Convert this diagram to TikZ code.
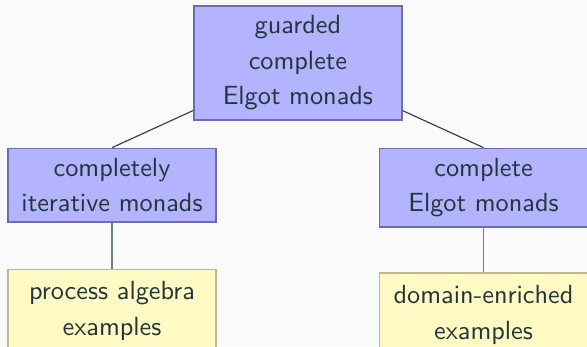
\documentclass[tikz,border=0pt]{standalone}
\usetikzlibrary{positioning,backgrounds}
\renewcommand{\familydefault}{\sfdefault}

\definecolor{textcol}{RGB}{35,55,59}
\definecolor{bgcol}{RGB}{250,250,250}
\definecolor{boxfill}{RGB}{179,179,255}
\definecolor{boxline}{RGB}{108,108,176}
\definecolor{exfill}{RGB}{255,249,196}
\definecolor{exline}{RGB}{189,185,142}
\definecolor{linkcol}{RGB}{47,69,72}
\definecolor{stemcol}{RGB}{110,128,130}

\tikzset{
  monad/.style={draw=boxline, fill=boxfill, line width=0.7pt, minimum width=80pt,
    inner xsep=3pt, inner ysep=3.6pt, align=center, text=textcol,
    font=\fontsize{10.1}{13.8}\selectfont},
  example/.style={monad, draw=exline, fill=exfill, minimum height=32pt},
  link/.style={draw=linkcol, line width=0.45pt},
  stem/.style={draw=stemcol, line width=0.6pt}
}

\begin{document}
\begin{tikzpicture}
      % Rahmen
      \clip (0,0) rectangle (225.8pt,133.1pt);
      \useasboundingbox (0,0) rectangle (225.8pt,133.1pt);

      % Oberste Klasse
      \node[monad] (gce) at (114.6pt,109pt) {guarded\\complete\\Elgot monads};

      % Zweite Ebene
      \node[monad, below=10.4pt of gce, xshift=-71.5pt] (cim) {completely\\iterative monads};
      \node[monad, below=10.4pt of gce, xshift=71.4pt]  (cem) {complete\\Elgot monads};

      % Beispiele
      \node[example, below=17.7pt of cim] (pae) {process algebra\\examples};
      \node[example, below=17.2pt of cem] (dee) {domain-enriched\\examples};

      % Verbindungen
      \begin{scope}[on background layer]
        \fill[bgcol] (0,0) rectangle (225.8pt,133.1pt);
        \draw[link] (gce.center) -- (cim.north);
        \draw[link] (gce.center) -- (cem.north);
        \draw[stem] (cim.center) -- (pae.north);
        \draw[stem] (cem.center) -- (dee.north);
      \end{scope}

    \end{tikzpicture}
\end{document}
